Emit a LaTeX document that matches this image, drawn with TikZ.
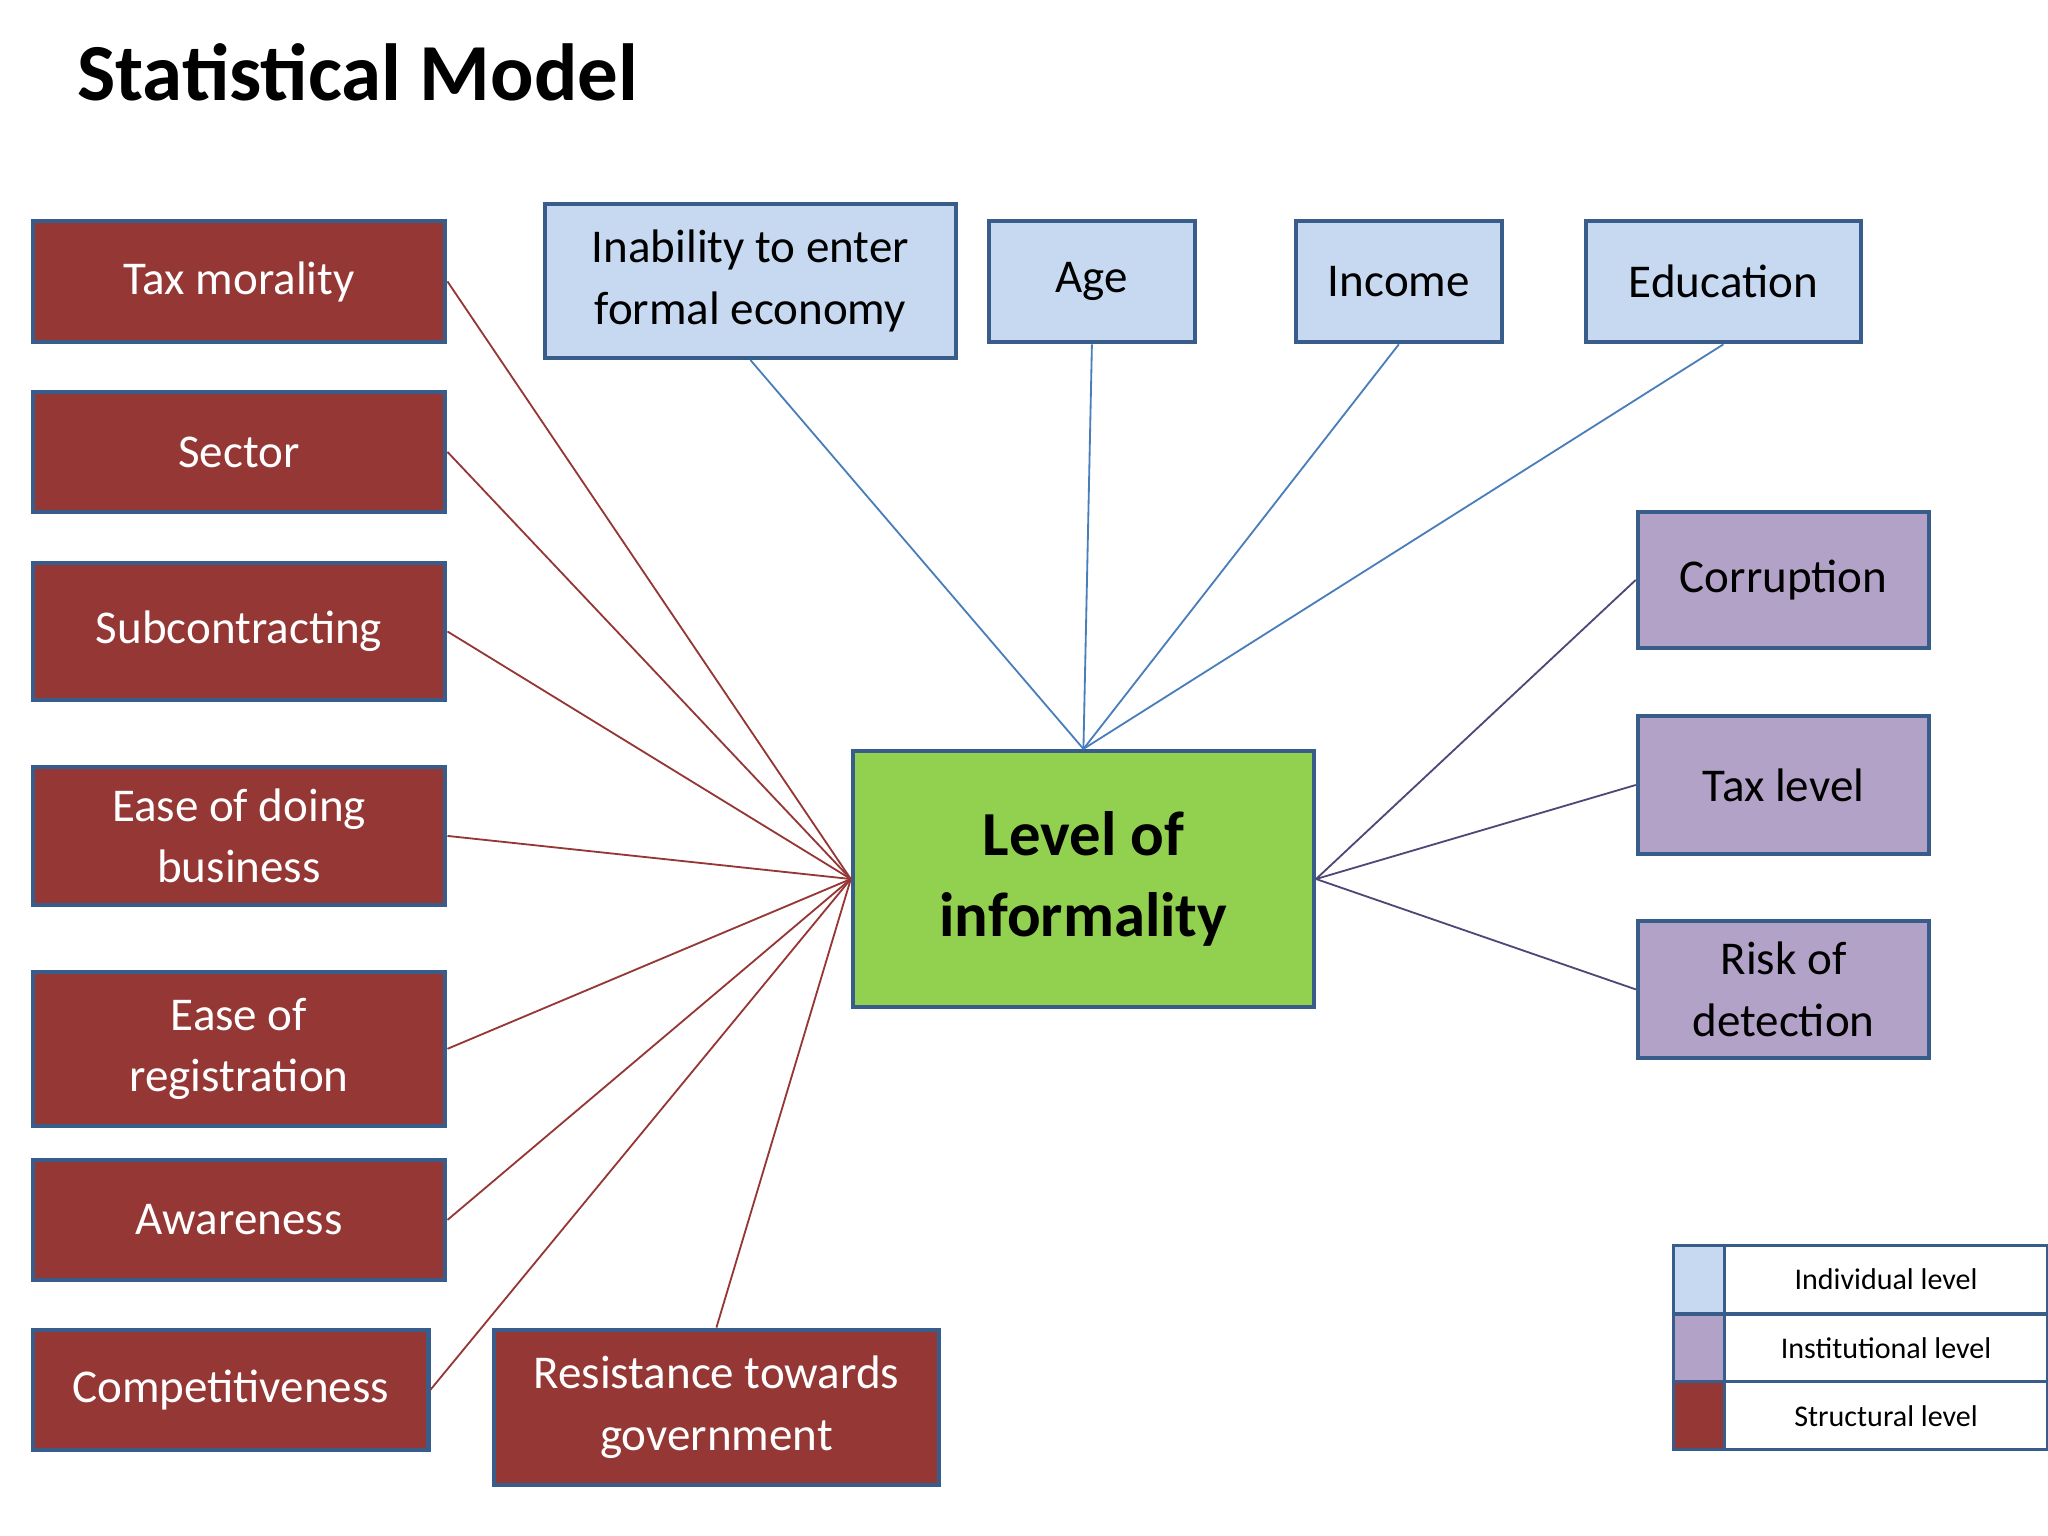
\documentclass[tikz,border=0pt]{standalone}
\usepackage{fontspec}
\setmainfont{Carlito}
\definecolor{rd}{RGB}{149,55,53}
\definecolor{bd}{RGB}{56,93,138}
\definecolor{lb}{RGB}{198,217,241}
\definecolor{pu}{RGB}{179,162,199}
\definecolor{gr}{RGB}{146,208,80}
\definecolor{bl}{RGB}{74,126,187}
\definecolor{pl}{RGB}{80,70,120}
\tikzset{
 bx/.style={draw=bd,line width=1.6pt,align=center,inner sep=0pt,font=\fontsize{18}{23.5}\selectfont},
 rbox/.style={bx,fill=rd,text=white},
 bbox/.style={bx,fill=lb},
 pbox/.style={bx,fill=pu},
 rl/.style={draw=rd,line width=0.7pt},
 bll/.style={draw=bl,line width=0.7pt},
 pll/.style={draw=pl,line width=0.7pt},
 lg/.style={draw=bd,line width=1.2pt,inner sep=0pt,font=\fontsize{11.5}{13}\selectfont}
}
\begin{document}
\begin{tikzpicture}[x=0.5pt,y=-0.5pt]
\useasboundingbox (0,0) rectangle (1568,1176);
\node[anchor=west,font=\bfseries\fontsize{31}{36}\selectfont] (title) at (52,55) {Statistical Model};
% left boxes
\node[rbox,minimum width=158pt,minimum height=46.5pt] (tm) at (183,215.5) {Tax morality};
\node[rbox,minimum width=158pt,minimum height=46pt] (se) at (183,346) {Sector};
\node[rbox,minimum width=158pt,minimum height=52.5pt] (sc) at (183,483.5) {Subcontracting};
\node[rbox,minimum width=158pt,minimum height=53pt] (ed) at (183,640) {Ease of doing\\business};
\node[rbox,minimum width=158pt,minimum height=59pt] (er) at (183,803) {Ease of\\registration};
\node[rbox,minimum width=158pt,minimum height=46pt] (aw) at (183,934) {Awareness};
\node[rbox,minimum width=151.5pt,minimum height=46pt] (co) at (176.5,1064) {Competitiveness};
\node[rbox,minimum width=170.5pt,minimum height=59.5pt] (rt) at (548.5,1077.5) {Resistance towards\\government};
% top boxes
\node[bbox,minimum width=157.5pt,minimum height=59pt] (in) at (574.5,215) {Inability to enter\\formal economy};
\node[bbox,minimum width=79pt,minimum height=46.5pt] (ag) at (836,215.5) {Age};
\node[bbox,minimum width=79pt,minimum height=46.5pt] (ic) at (1071,215.5) {Income};
\node[bbox,minimum width=105.5pt,minimum height=46.5pt] (eu) at (1319.5,215.5) {Education};
% right boxes
\node[pbox,minimum width=111.5pt,minimum height=52pt] (cr) at (1365.5,444) {Corruption};
\node[pbox,minimum width=111.5pt,minimum height=53pt] (tl) at (1365.5,601) {Tax level};
\node[pbox,minimum width=111.5pt,minimum height=52.5pt] (ri) at (1365.5,757.5) {Risk of\\detection};
% center
\node[bx,fill=gr,minimum width=176.5pt,minimum height=98pt,font=\bfseries\fontsize{24}{31}\selectfont] (c) at (829.5,673) {Level of\\informality};
% connectors
\foreach \n in {tm,se,sc,ed,er,aw,co} \draw[rl] (\n.east) -- (c.west);
\draw[rl] (rt.north) -- (c.west);
\foreach \n in {in,ag,ic,eu} \draw[bll] (\n.south) -- (c.north);
\foreach \n in {cr,tl,ri} \draw[pll] (\n.west) -- (c.east);
% legend
\node[lg,fill=lb,minimum width=19.5pt,minimum height=26pt] (l1) at (1300.5,979.5) {};
\node[lg,fill=pu,minimum width=19.5pt,minimum height=26pt] (l2) at (1300.5,1032) {};
\node[lg,fill=rd,minimum width=19.5pt,minimum height=26pt] (l3) at (1300.5,1084) {};
\node[lg,minimum width=124pt,minimum height=26pt] (t1) at (1444,979.5) {Individual level};
\node[lg,minimum width=124pt,minimum height=26pt] (t2) at (1444,1032) {Institutional level};
\node[lg,minimum width=124pt,minimum height=26pt] (t3) at (1444,1084) {Structural level};
\end{tikzpicture}
\end{document}
